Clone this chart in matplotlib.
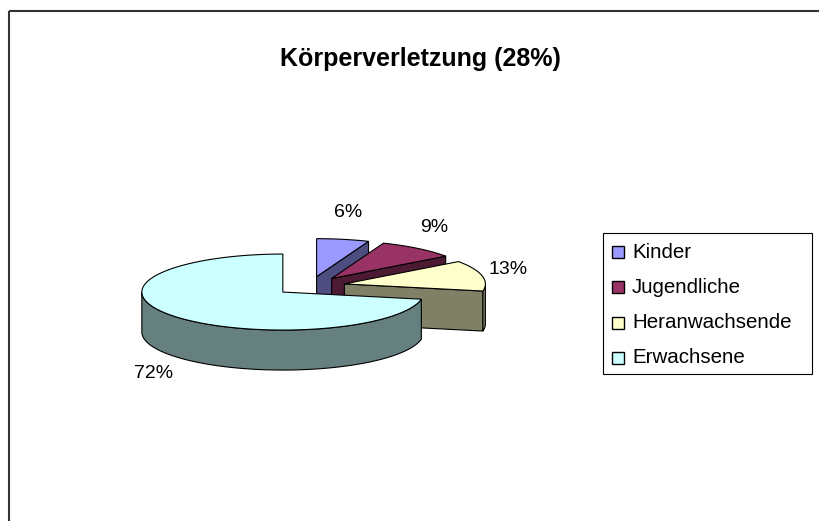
import numpy as np
import matplotlib
matplotlib.use("Agg")
import matplotlib.pyplot as plt
from matplotlib.patches import Polygon, Rectangle

plt.rcParams['font.family'] = ['Liberation Sans', 'DejaVu Sans']

# data
title = "Körperverletzung (28%)"
categories = ["Kinder", "Jugendliche", "Heranwachsende", "Erwachsene"]
shares = [6, 9, 13, 72]
top_colors = ["#9999FF", "#993366", "#FFFFCC", "#CCFFFF"]
side_colors = ["#4D4D80", "#4D1A33", "#808066", "#668080"]

W, H = 819, 521
fig = plt.figure(figsize=(W / 100, H / 100), dpi=100)
ax = fig.add_axes([0, 0, 1, 1])
ax.set_xlim(0, W)
ax.set_ylim(H, 0)
ax.axis('off')

# pseudo-3D pie geometry (pixel space)
cx, cy = 310, 286
rx, ry = 141, 38
depth = 40
explode = 0.25
lw = 0.8


def rim(vx, vy, deg, dz=0):
    t = np.radians(deg)
    return vx + rx * np.sin(t), vy - ry * np.cos(t) + dz


def arc(vx, vy, a, b, dz=0):
    ts = np.linspace(a, b, max(int(abs(b - a)) + 2, 3))
    return [rim(vx, vy, t, dz) for t in ts]


total = sum(shares)
bounds = np.cumsum([0] + shares) / total * 360
slices = []
for i, val in enumerate(shares):
    a, b = bounds[i], bounds[i + 1]
    m = np.radians((a + b) / 2)
    vx = cx + explode * rx * np.sin(m)
    vy = cy - explode * ry * np.cos(m)
    slices.append((i, a, b, m, vx, vy))

# back to front
for i, a, b, m, vx, vy in sorted(slices, key=lambda s: -np.cos(s[3])):
    # radial cut faces
    for ang, vis in ((a, np.sin(np.radians(a)) < -1e-6), (b, np.sin(np.radians(b)) > 1e-6)):
        if vis:
            p = rim(vx, vy, ang)
            quad = [(vx, vy), p, (p[0], p[1] + depth), (vx, vy + depth)]
            ax.add_patch(Polygon(quad, closed=True, fc=side_colors[i], ec='black', lw=lw))
    # outer rim on the front half
    lo, hi = max(a, 90), min(b, 270)
    if hi > lo:
        pts = arc(vx, vy, lo, hi) + arc(vx, vy, lo, hi, depth)[::-1]
        ax.add_patch(Polygon(pts, closed=True, fc=side_colors[i], ec='black', lw=lw))
    # top
    pts = [(vx, vy)] + arc(vx, vy, a, b)
    ax.add_patch(Polygon(pts, closed=True, fc=top_colors[i], ec='black', lw=lw))

    # percentage label
    px, py = rim(vx, vy, np.degrees(m), depth if np.cos(m) < 0 else 0)
    px += 27 * np.sin(m)
    py -= 27 * np.cos(m)
    ax.text(px, py, f"{shares[i] / total * 100:.0f}%", fontsize=14,
            ha='center', va='center')

# title
ax.text(420, 59, title, fontsize=18, fontweight='bold', ha='center', va='center')

# legend
ax.add_patch(Rectangle((603, 233), 209, 141, fill=False, ec='black', lw=0.8))
for k, name in enumerate(categories):
    yy = 252 + k * 35.3
    ax.add_patch(Rectangle((612, yy - 6), 12, 12, fc=top_colors[k], ec='black', lw=1.0))
    ax.text(632, yy, name, fontsize=14.8, ha='left', va='center')

# chart frame
ax.add_patch(Rectangle((9, 11), 900, 600, fill=False, ec='#333333', lw=1.5))

fig.savefig("out.png", dpi=100)
